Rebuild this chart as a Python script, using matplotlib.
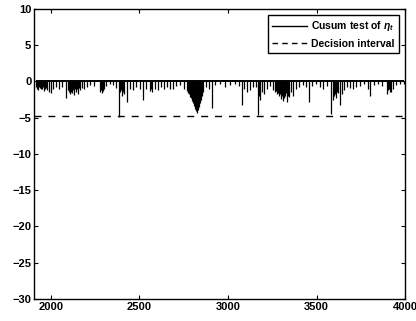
import matplotlib
matplotlib.use("Agg")
import matplotlib.pyplot as plt
from matplotlib.lines import Line2D

# Cusum spikes (time index, cusum value)
spike_x = [1915, 1921, 1927, 1932, 1938, 1944, 1949, 1955, 1960, 1966, 1972, 1980, 1989, 2000, 2011, 2028, 2045, 2062,
           2085, 2096, 2101, 2107, 2112, 2118, 2124, 2130, 2136, 2141, 2146, 2152, 2158, 2164, 2175, 2186, 2203, 2220,
           2243, 2276, 2282, 2288, 2294, 2299, 2310, 2333, 2350, 2367, 2385, 2389, 2395, 2400, 2406, 2412,
           2429, 2446, 2462, 2479, 2502, 2519, 2536, 2558, 2564, 2570, 2587, 2603, 2620,
           2637, 2654, 2671, 2688, 2705, 2728, 2750, 2767, 2773, 2778, 2784, 2790, 2795, 2801, 2806, 2812, 2818,
           2823, 2829, 2835, 2840, 2846, 2851, 2857, 2874, 2891, 2908, 2925, 2953, 2981, 3010, 3038,
           3060, 3077, 3089, 3105, 3122, 3139, 3156, 3167, 3173, 3179, 3190, 3201, 3218,
           3235, 3252, 3263, 3269, 3275, 3280, 3286, 3292, 3297, 3303, 3308, 3314, 3320, 3325, 3331, 3337, 3342, 3354, 3365,
           3382, 3399, 3421, 3438, 3455, 3472, 3495, 3517, 3534, 3557, 3583, 3590,
           3596, 3602, 3607, 3613, 3619, 3630, 3641, 3653, 3669, 3686, 3703, 3720, 3743, 3765,
           3788, 3799, 3822, 3844, 3867, 3895, 3901, 3906, 3912, 3918, 3929, 3946, 3968, 3991]
spike_depth = [-0.8, -1.0, -1.2, -0.7, -0.9, -1.1, -1.0, -0.8, -1.3, -1.0, -0.9, -1.2, -1.4, -1.6, -1.0, -0.8, -1.1, -0.7,
               -2.3, -1.2, -1.5, -1.8, -1.4, -1.6, -1.2, -1.9, -1.0, -1.4, -1.1, -1.7, -0.9, -1.2, -0.9, -1.0, -0.7, -0.5,
               -0.6, -1.5, -1.2, -1.6, -1.3, -1.1, -0.6, -0.4, -0.5, -0.9, -4.9, -1.5, -1.2, -2.0, -1.4, -1.8,
               -2.8, -1.0, -1.2, -0.7, -1.0, -2.5, -1.0, -1.3, -1.0, -1.5, -1.0, -1.2, -0.8,
               -1.0, -0.7, -1.1, -1.0, -0.6, -0.5, -1.0, -1.3, -1.6, -1.8, -2.1, -2.3, -2.7, -3.0, -3.4, -3.8, -4.1,
               -4.4, -3.9, -3.5, -3.0, -2.5, -2.0, -1.5, -0.8, -1.0, -3.6, -0.5, -0.4, -0.8, -0.5, -0.3,
               -0.6, -3.2, -1.0, -1.5, -1.2, -0.7, -0.8, -4.6, -2.0, -2.5, -1.5, -1.8, -1.0,
               -0.6, -1.2, -1.5, -1.3, -1.8, -1.6, -2.0, -1.7, -2.4, -2.0, -2.7, -2.3, -2.0, -1.6, -2.8, -2.0, -2.2, -1.5, -2.0,
               -1.0, -0.7, -0.5, -0.7, -2.9, -0.6, -0.4, -0.8, -1.0, -0.6, -4.5, -2.5,
               -2.0, -1.8, -2.3, -1.5, -1.6, -3.3, -1.7, -1.2, -0.8, -0.9, -1.0, -0.7, -0.6, -0.4,
               -1.0, -2.0, -0.5, -0.4, -0.6, -1.8, -1.2, -1.0, -1.5, -1.4, -1.1, -0.5, -0.4, -0.3]
decision_level = -4.8
x_range = [1905, 4000]
y_range = [-30, 10]
x_ticks = [2000, 2500, 3000, 3500, 4000]
y_ticks = [10, 5, 0, -5, -10, -15, -20, -25, -30]
legend_labels = ["Cusum test of $\\eta_t$", "Decision interval"]

plt.rcParams['font.family'] = ['Liberation Sans', 'DejaVu Sans']
plt.rcParams['font.weight'] = 'bold'
plt.rcParams['mathtext.fontset'] = 'custom'
plt.rcParams['mathtext.it'] = 'Liberation Sans:italic:bold'
plt.rcParams['mathtext.rm'] = 'Liberation Sans:bold'

fig = plt.figure(figsize=(4.16, 3.21), dpi=100)
ax = fig.add_axes([0.082, 0.069, 0.892, 0.903])

ax.vlines(spike_x, spike_depth, 0, colors='black', linewidth=0.9)
ax.hlines(0, spike_x[0], spike_x[-1], colors='black', linewidth=1.4)
ax.axhline(decision_level, color='black', linestyle=(0, (5, 5)), linewidth=1.0)

ax.set_xlim(*x_range)
ax.set_ylim(*y_range)
ax.set_xticks(x_ticks)
ax.set_yticks(y_ticks)
ax.tick_params(direction='in', top=True, right=True, length=3, width=0.8,
               labelsize=8, pad=2)
for lab in ax.get_xticklabels() + ax.get_yticklabels():
    lab.set_fontweight('bold')
for s in ax.spines.values():
    s.set_linewidth(1.0)

handles = [Line2D([], [], color='black', linewidth=1.0),
           Line2D([], [], color='black', linestyle=(0, (4, 3)), linewidth=1.0)]
leg = ax.legend(handles, legend_labels, loc='upper right',
                frameon=True, fancybox=False, edgecolor='black', framealpha=1,
                borderaxespad=0.6, handlelength=3.4, handletextpad=0.4,
                borderpad=0.4, labelspacing=0.5, prop={'weight': 'bold', 'size': 7.5})
leg.get_frame().set_linewidth(1.0)

fig.savefig("out.png", dpi=100)
